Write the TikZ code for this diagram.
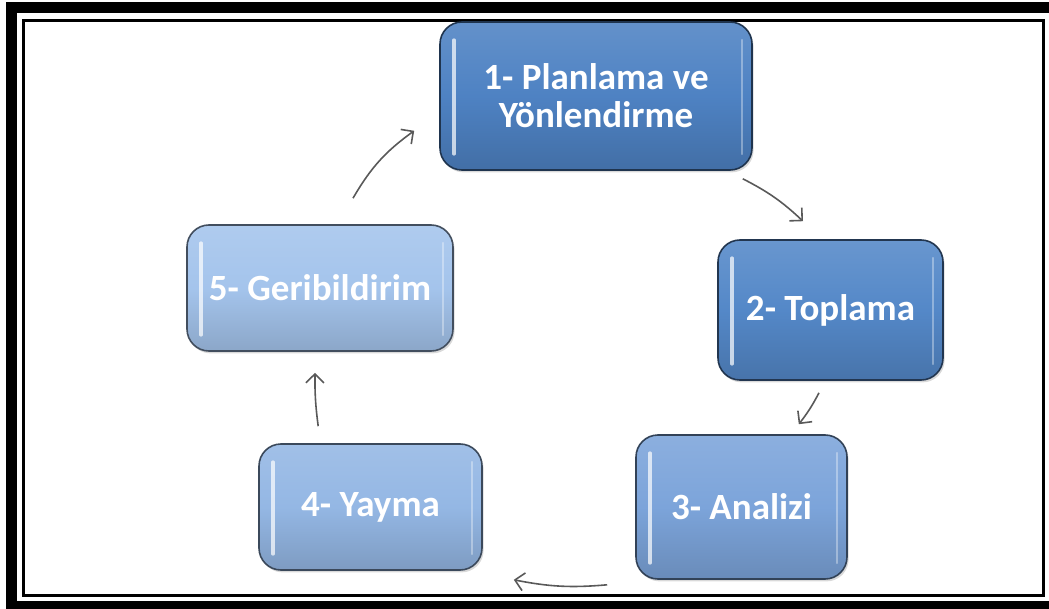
\documentclass[tikz,border=0pt]{standalone}
\usepackage{fontspec}
\setmainfont{Carlito}
\usetikzlibrary{arrows.meta,calc,shadows}

\definecolor{stageA}{RGB}{78,130,195}
\definecolor{stageB}{RGB}{84,136,200}
\definecolor{stageC}{RGB}{124,164,218}
\definecolor{stageD}{RGB}{148,183,228}
\definecolor{stageE}{RGB}{164,196,236}

\tikzset{
    stage/.style={rounded corners=11pt, draw=#1!40!black, line width=0.8pt,
        top color=#1!88!white, bottom color=#1!85!black, middle color=#1,
        text=white, font=\bfseries\fontsize{18.5}{19}\selectfont, align=center,
        drop shadow={opacity=0.3, shadow xshift=0.8pt, shadow yshift=-1.2pt},
        path picture={
            \draw[white, line width=1.6pt, opacity=0.7, line cap=round]
                ([shift={(7pt,-9pt)}]path picture bounding box.north west) --
                ([shift={(7pt,8pt)}]path picture bounding box.south west);
            \draw[white, line width=1.2pt, opacity=0.35, line cap=round]
                ([shift={(-5pt,-9pt)}]path picture bounding box.north east) --
                ([shift={(-5pt,8pt)}]path picture bounding box.south east);
        }},
    flow/.style={draw=black!65, line width=0.8pt,
        -{Straight Barb[length=4.5pt,width=9pt]}}
}

\begin{document}
\begin{tikzpicture}[x=0.5pt,y=-0.5pt]
        \useasboundingbox (0,0) rectangle (1049,609);
        \draw[line width=5.5pt] (11.5,8) rectangle (1070,606);
        \draw[line width=1.5pt] (23.5,20.5) rectangle (1043.5,595.5);

        \node[stage=stageA, minimum width=156pt, minimum height=74pt] (plan) at (596,96) {1- Planlama ve\\Yönlendirme};
        \node[stage=stageB, minimum width=112.5pt, minimum height=70pt] (topla) at (830.5,310) {2- Toplama};
        \node[stage=stageC, minimum width=105.5pt, minimum height=72pt] (analiz) at (741.5,507) {3- Analizi};
        \node[stage=stageD, minimum width=111.5pt, minimum height=63pt] (yay) at (370.5,507) {4- Yayma};
        \node[stage=stageE, minimum width=133pt, minimum height=63pt] (geri) at (320,288) {5- Geribildirim};

        \draw[flow] ($(plan.south east)+(-10,8)$) to[bend left=8] ($(topla.north)+(-27.5,-18)$);
        \draw[flow] ($(topla.south)+(-11.5,12)$) to[bend left=5] ($(analiz.north east)+(-49,-10)$);
        \draw[flow] ($(analiz.south west)+(-28,5)$) to[bend left=8] ($(yay.south east)+(31,9)$);
        \draw[flow] ($(yay.north west)+(60,-17)$) to[bend left=4] ($(geri.south)+(-5,21)$);
        \draw[flow] ($(geri.north)+(33,-26)$) to[bend left=12] ($(plan.south west)+(-25,-40)$);
    \end{tikzpicture}
\end{document}
